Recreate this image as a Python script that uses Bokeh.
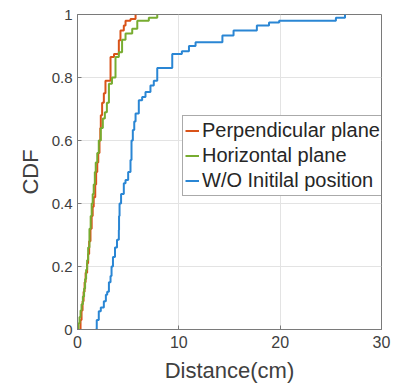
from bokeh.plotting import figure
from bokeh.models import Legend, LegendItem, FixedTicker, Range1d
from bokeh.embed import file_html
from bokeh.resources import INLINE

# Step CDF breakpoints (distance in cm, CDF after step)
perp_x = [0.2, 0.3, 0.4, 0.5, 0.6, 0.7, 0.8, 0.95, 1.05, 1.15, 1.28, 1.4, 1.5, 1.6, 1.75, 1.84,
          1.95, 2.05, 2.17, 2.25, 2.3, 2.43, 2.6, 2.76, 3.26, 3.6, 4.08, 4.24, 4.57, 4.74, 5.23, 5.73]
perp_y = [0.0, 0.03, 0.06, 0.09, 0.12, 0.15, 0.18, 0.21, 0.24, 0.28, 0.32, 0.36, 0.39, 0.42, 0.46, 0.50,
          0.53, 0.56, 0.60, 0.64, 0.68, 0.72, 0.75, 0.79, 0.865, 0.875, 0.918, 0.949, 0.965, 0.98, 0.986, 1.0]

horiz_x = [0.0, 0.1, 0.2, 0.3, 0.4, 0.53, 0.65, 0.75, 0.85, 0.95, 1.05, 1.18, 1.3, 1.4, 1.5, 1.6, 1.71,
           1.8, 1.95, 2.1, 2.3, 2.5, 2.7, 2.9, 3.1, 3.4, 3.75, 4.08, 4.4, 4.74, 5.4, 5.9, 7.04, 7.87]
horiz_y = [0.0, 0.02, 0.04, 0.06, 0.08, 0.105, 0.13, 0.16, 0.19, 0.22, 0.26, 0.32, 0.36, 0.40, 0.43, 0.46, 0.50,
           0.53, 0.56, 0.60, 0.64, 0.67, 0.69, 0.72, 0.78, 0.80, 0.865, 0.88, 0.92, 0.94, 0.955, 0.98, 0.99, 1.0]

woinit_x = [1.78, 1.9, 2.1, 2.3, 2.6, 2.8, 2.93, 3.1, 3.26, 3.36, 3.5, 3.7, 3.9, 4.08, 4.1, 4.15, 4.3, 4.57,
            4.74, 5.0, 5.23, 5.33, 5.46, 5.6, 5.73, 6.05, 6.38, 6.71, 7.2, 7.53, 7.87, 9.35, 10.3, 11.0,
            11.65, 14.3, 15.4, 17.7, 18.9, 19.9, 25.5, 26.4]
woinit_y = [0.0, 0.03, 0.058, 0.07, 0.09, 0.11, 0.12, 0.15, 0.17, 0.20, 0.23, 0.26, 0.285, 0.316, 0.36, 0.40,
            0.43, 0.464, 0.475, 0.50, 0.538, 0.60, 0.633, 0.66, 0.686, 0.728, 0.738, 0.754, 0.775, 0.79,
            0.83, 0.875, 0.883, 0.90, 0.912, 0.933, 0.949, 0.965, 0.975, 0.98, 0.99, 1.0]

series_names = ["Perpendicular plane", "Horizontal plane", "W/O Initilal position"]
series_colors = ["#D95319", "#77AC30", "#2A86D4"]

x_ticks = [0, 10, 20, 30]
x_tick_labels = ["0", "10", "20", "30"]
y_ticks = [0, 0.2, 0.4, 0.6, 0.8, 1]
y_tick_labels = ["0", "0.2", "0.4", "0.6", "0.8", "1"]

FONT = "Liberation Sans"
TXT = "#404040"
AX = "#7A7A7A"

p = figure(width=394, height=385, output_backend="svg", toolbar_location=None,
           x_range=Range1d(0, 30), y_range=Range1d(0, 1),
           min_border_left=77, min_border_right=13, min_border_top=14, min_border_bottom=55)

renderers = []
for xs, ys, c in [(perp_x, perp_y, series_colors[0]), (horiz_x, horiz_y, series_colors[1]),
                  (woinit_x, woinit_y, series_colors[2])]:
    r = p.step(xs, ys, mode="after", line_color=c, line_width=2)
    renderers.append(r)

p.xaxis.ticker = FixedTicker(ticks=x_ticks)
p.yaxis.ticker = FixedTicker(ticks=y_ticks)
p.xaxis.major_label_overrides = {t: l for t, l in zip(x_ticks, x_tick_labels)}
p.yaxis.major_label_overrides = {t: l for t, l in zip(y_ticks, y_tick_labels)}
p.xaxis.axis_label = "Distance(cm)"
p.yaxis.axis_label = "CDF"

for ax in [p.xaxis[0], p.yaxis[0]]:
    ax.axis_label_text_font = FONT
    ax.axis_label_text_font_size = "22px"
    ax.axis_label_text_font_style = "normal"
    ax.axis_label_text_color = TXT
    ax.major_label_text_font = FONT
    ax.major_label_text_color = TXT
    ax.axis_line_color = AX
    ax.major_tick_line_color = AX
    ax.major_tick_in = 4
    ax.major_tick_out = 0
    ax.minor_tick_line_color = None
p.xaxis.major_label_text_font_size = "16px"
p.yaxis.major_label_text_font_size = "15px"
p.xaxis.major_label_standoff = 6
p.yaxis.major_label_standoff = 5
p.xaxis.axis_label_standoff = 7
p.yaxis.axis_label_standoff = 6

p.outline_line_color = AX
p.xgrid.grid_line_color = "#E3E3E3"
p.ygrid.grid_line_color = "#E3E3E3"

legend = Legend(items=[LegendItem(label=n, renderers=[r]) for n, r in zip(series_names, renderers)],
                location=(105, 133))
legend.label_text_font = FONT
legend.label_text_font_size = "20px"
legend.label_text_color = "#262626"
legend.glyph_width = 14
legend.glyph_height = 25
legend.label_height = 25
legend.label_standoff = 3
legend.padding = 2
legend.spacing = 0
legend.margin = 0
legend.border_line_color = "#555555"
legend.background_fill_alpha = 1
p.add_layout(legend, "center")

open("out.html", "w").write(file_html(p, INLINE))
